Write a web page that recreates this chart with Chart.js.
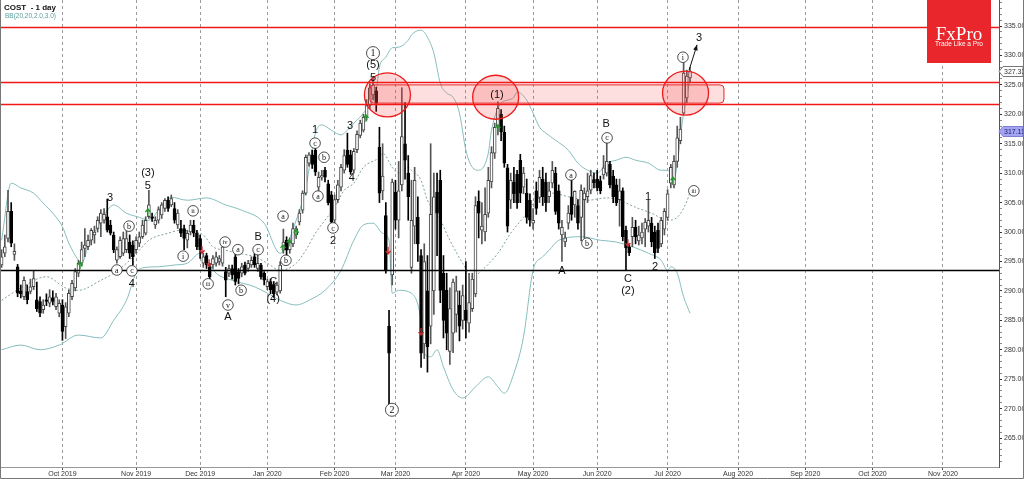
<!DOCTYPE html>
<html>
<head>
<meta charset="utf-8">
<script src="https://cdn.jsdelivr.net/npm/chart.js@4.4.0/dist/chart.umd.min.js"></script>
<style>
  html, body { margin: 0; padding: 0; background: #fff; }
  #wrap { position: relative; width: 1024px; height: 479px; }
</style>
</head>
<body>
<div id="wrap"><canvas id="c" width="1024" height="479"></canvas></div>
<script>
// daily candles, index 0 = first visible trading day
const opens = [294.4,296.4,298.9,303.5,296.2,294.1,290,289,289.9,289.9,290.7,288.5,288.2,286.8,288.5,287.9,288.8,287.3,286.2,287.6,
  283.9,286.2,289,290.5,293,294.7,297.2,297.5,298.6,299.5,300.6,301.5,302,302.6,301.2,299.5,295.2,295.8,296.4,297,
  298.3,297.8,297,298.1,299.2,299.8,302.6,302.6,301.2,302,302.9,304,305.4,304.6,304,301.2,300.6,300.6,298.6,300,
  301.2,299.8,298.9,294.7,296,294.1,294.4,294.7,295,294.7,293.3,293,293.8,295.8,293.3,293,294.4,293.8,294.4,295.8,
  293.8,294.4,293,290.7,291.6,291,289.8,290,296.9,298.6,297,298,299.5,301.7,303.7,306.6,311.7,313.1,313.9,307.6,
  309.3,310.5,308.2,306.3,302,305.5,307.6,310.5,313.9,313.1,310.5,314,316.4,317.3,319.5,321.5,323.3,324,314.4,307,
  302.8,284,292.7,306.8,302,308,315,310,294,301,302.5,296,281,290,284,290,306.8,308.8,293,290.1,
  279.7,282.8,286,287.6,285,286.7,284.5,287,289.5,305.2,300.3,300,303.2,308.5,313.4,317.8,320,317,310.9,305.4,
  308.5,309.8,312.2,307.6,306.6,305.4,301.5,307,305.9,309,308.5,306,308.3,310,307,299.5,298.3,301.5,306,304.6,
  304.5,302.5,305.5,306,307.1,308.9,309,308.7,309.7,310,311.5,309.5,308,305.5,307,300.3,297.5,299.2,300.8,298.5,
  299,300.5,301,301.5,300,300.3,298,300.5,302.5,308.3,308,312,315.5,320.2,322.8,326.2];
const highs = [297,299.5,307.1,305,298,294.5,291,292.4,291,292,293.5,291.5,289,288.5,289.5,290.2,290,289.6,288.5,288.5,
  288,290.2,291.8,293.8,295.2,298.3,300.6,299.5,300.6,301,302.6,303.8,304,305.6,302,300,297.5,299.2,300,300.3,
  299.5,298.5,299.2,300,302,302.6,307.1,303.2,302.6,304.3,305,305.7,306,306.3,305,303.8,302,301.2,300.3,302,
  302,300.3,299.5,296.4,296.4,294.7,296,296.6,296,297.8,294,294.4,294.4,296.9,293.8,294.7,294.9,295.2,295.8,297.2,
  296.4,294.7,293.3,292,292,291.6,291.5,295,300.5,299.2,299,301.5,301,303.8,307,313.1,313.5,313.9,314.5,310.2,
  310.5,311,308.8,306.9,306.3,308.8,311.5,314,316.8,313.9,314.2,317.2,319,320,322.5,325.2,326.3,324.6,317.8,315,
  305,286.7,309,308.8,312,324.5,322,313,308.8,311,306,297,298,296,315,310,310,310.5,296,293,
  290.5,292,292.5,290,291,295,293,293,306,307,305,307.5,311,314.5,318.5,322.1,320.8,318,311.5,310,
  311,310.5,313.2,311,309,306.5,304,308.5,310.5,311,310,308.5,312,311,308,302,300,304.5,309,307,
  305.5,308,307.5,310,310.5,310,310.5,309.5,313,315.1,312,310.5,309,309,307.5,301,298,302.5,302,301,
  301.5,302.3,305.4,302.5,301,301.5,302.5,304,307.2,311.5,313,318,319.5,328.7,327.5,328];
const lows = [294,295.8,298.3,297.5,295.2,289,288.8,288.5,287.8,289.5,290.2,286.5,285.6,286.2,287.5,287.3,287.6,286.8,285.6,281.6,
  281.9,285.6,288.5,290,292.4,294.2,295.8,297,297.8,298.1,300,299.2,301.5,300,299.5,296.5,294.7,295.5,296,296.5,
  295.5,294.4,296.4,297.5,298.9,299.5,302.3,301.8,300.6,301.5,302.3,303.5,303.5,304.3,301.5,300.6,299.2,297,297.3,299.5,
  299.2,297,295.5,294,293.8,291.5,293.8,294.2,294.4,294.2,289,292.4,292,291,291.2,292.4,292.7,293.3,294,294,
  293.3,292,291,290.2,289.5,288.9,289.3,289.6,296.4,296,296.4,297.5,298.9,301.2,303.2,306.3,311.2,310.8,309.6,306.3,
  308.8,308.5,304.6,301,301.2,305,307,310,311,309.8,310,313.5,316,317,319,321,322.5,320.5,305,305.5,
  293,270.3,291,300.5,299,307,309,302,293,298,295,277,278.5,276.2,281,286,296,288,282,280,
  277.5,279.5,283,281.5,283.5,282,283,286.5,289,299,298,298.5,302.5,307.5,312.5,316.5,315.5,311,300,304,
  305,304,305,306.5,301.5,301,300.5,303,305,304.5,303.5,305,307.5,303,300.5,295,297.5,300.5,302,302.5,
  300.5,298.5,299,305,306.5,307.5,307,306.5,309,309.5,307.5,305,304.5,301,298.5,293.6,296,297.5,298,297.8,
  298,297.5,300,297.5,295.5,296.5,297.5,299.5,302,307.5,307.5,311,315,320,322,325.5];
const closes = [295.8,297.5,303.5,298.1,296.7,289.6,289.5,291.8,288.5,290.7,292.1,287,286.2,287.6,288.2,289,288.2,289,287.9,283.1,
  287.3,289.6,291.3,293.3,294.7,297,297.8,298.6,300.3,300,302,303.2,303,300.3,299.8,297,297,298.6,298.9,298.9,
  296.4,295.8,298.6,299.2,301.2,302,304.6,302.3,302,303.8,304.6,305.4,304,305.7,302,303.2,299.8,298.9,299.8,301.2,
  299.8,297.5,297,295.8,294.4,292.4,295.5,295.8,295.5,297.5,291.8,293.8,292.7,291.6,292.1,294.1,293,294.7,295.2,294.4,
  294.7,292.4,291.8,291.6,290.2,289.5,291,294.4,298.3,296.9,298.3,300.6,300.6,303.2,306.6,312.7,313.1,311.5,310.2,309.3,
  309.6,309.3,305,301.7,305.5,308,311,313,311.5,310.2,313.7,316.6,318.5,319.5,321.5,324.5,325,321.9,306.6,309.5,
  293.5,279.4,308.5,302,307,316.2,312.2,306,302,308.8,298,279.4,295,280.5,303,306,303.2,290.1,285,282.8,
  287,291.5,290,284,289.2,285,288,292,304.5,303.2,301,303,308.8,313.5,317.8,321,317,311.7,301,308.8,
  306.5,305,306.6,310,302.5,302,302,304,309.3,306,305,307,310.5,303.5,301.5,300.8,299,303.2,303,306.9,
  301.5,307.1,306.6,307,309.6,308.4,307.5,307,310.9,312,308,306,305,307,299.2,297.3,296.5,300.8,299.2,299.5,
  300,301.7,302,298.3,296.5,297.2,302,303.5,306.5,311,312,316,317.5,327,326.5,327.33];

// bollinger band readings [candle index, price]
const bbUpper = [[0,298.6],[3,308.3],[6,307.5],[10,306.6],[13,304.9],[16,303.2],[19,300.9],[21,298.1],[24,295.2],[25,294.7],
  [27,297.5],[30,300.9],[33,303.7],[35,304.6],[39,303.2],[43,302.5],[46,302],[49,303.7],[53,305.9],[58,305.4],[64,305.8],
  [70,304.6],[75,303.7],[82,301.5],[87,296.4],[92,302],[95,307.6],[98,316.8],[100,318.2],[103,317.3],[106,316.5],[108,317.3],
  [110,318.5],[113,320.2],[117,324.1],[118,328],[120,329.7],[122,331.3],[124,331.4],[127,332.6],[128,333.5],[131,334.3],
  [133,333.1],[135,330.4],[137,325.3],[139,323.6],[141,322.9],[143,320.2],[145,313.9],[147,311],[149,310.5],[152,313.4],
  [153,317.3],[156,321.9],[158,322.4],[160,322.9],[161,323.8],[164,322.4],[166,320.2],[168,317.8],[170,316.8],[173,315.6],
  [177,313.9],[180,311.7],[183,310.5],[186,310],[189,311.7],[192,312.2],[195,312.7],[198,312.2],[202,311.7],[206,310.5],
  [208,310.5],[210,309.3],[213,320.2],[215,325.8]];
const bbMiddle = [[0,288.4],[6,290.5],[14,292.4],[20,290.5],[24,290.1],[31,291.8],[35,293],[39,294.7],[43,296.9],[46,298.6],
  [52,299.8],[56,300.3],[60,300],[63,299.5],[66,297.5],[70,296.9],[74,296.4],[79,295.8],[83,294.7],[87,293.5],[92,294.7],
  [95,296.9],[98,299.8],[101,302],[104,304.2],[107,307.1],[110,308.3],[113,311],[118,312.7],[119,313.4],[122,311],[124,310],
  [127,311],[128,310.5],[131,308.8],[133,305.4],[136,303.2],[140,298.6],[144,294.7],[147,292.4],[150,293.5],[155,296.4],
  [159,299.8],[163,302.5],[167,305.4],[172,306.6],[177,306],[183,305.4],[189,305.8],[193,305.4],[198,304.2],[203,303.2],
  [208,302],[211,302.5],[214,305.2],[215,306.8]];
const bbLower = [[0,280],[6,280.8],[12,280],[18,280.8],[24,282.5],[31,282],[35,285],[39,288.4],[42,293],[44,293.9],[49,294.1],
  [54,294.4],[58,294.7],[62,296.4],[64,295.2],[67,293],[72,291.8],[79,290.7],[83,289.6],[87,288.4],[92,287.6],[96,288.4],
  [101,290.1],[106,293.5],[110,298.6],[113,301.2],[116,301.5],[119,299.8],[121,298.6],[122,289.6],[124,290.1],[128,289.6],
  [131,285],[132,279.4],[134,278.8],[136,280],[138,277.1],[141,273.2],[144,271.8],[148,273.7],[152,275.4],[155,273.7],
  [157,272.6],[160,276],[163,282.2],[166,293.5],[169,295.8],[171,296.9],[174,298.6],[181,299.2],[187,298.6],[192,298.3],
  [197,297.5],[202,296.4],[206,295.2],[208,293.5],[209,294.1],[211,293],[213,289],[215,286.2]];

// axis
const monthLabels = ['Oct 2019','Nov 2019','Dec 2019','Jan 2020','Feb 2020','Mar 2020','Apr 2020','May 2020','Jun 2020',
  'Jul 2020','Aug 2020','Sep 2020','Oct 2020','Nov 2020'];
const monthStart = [19, 42, 62, 83, 104, 123, 145, 166, 186, 208, 230, 251, 272, 294];
const slotCount = 312;

// drawn levels and marks
const resistLevels = [334.83, 325.49, 321.75];
const supportLevel = 293.55;
const zoneBox = { from: 115, to: 225.6, top: 325.0, bottom: 321.9 };
const zoneCircles = [[120.5, 323.3], [154.3, 322.9], [213.6, 323.6]];
const lastPrice = 327.33;
const markPrice = 317.11;

// wave labels: text, index, price, kind (p plain, c circled, C big circled)
const waveLabels = [
  ['3',33.9,305.8,'p'],['a',36,293.55,'c'],['b',39.8,301,'c'],['c',40.7,293.4,'c'],['4',40.7,291.1,'p'],
  ['(3)',45.7,310,'p'],['5',45.7,307.8,'p'],['i',56.7,295.9,'c'],['ii',59.8,303.6,'c'],['iii',64.5,291.2,'c'],
  ['iv',69.8,298.3,'c'],['a',73.8,297,'c'],['v',70.7,287.6,'c'],['A',70.7,285.6,'p'],['b',74.8,290.1,'c'],
  ['B',80.1,299.1,'p'],['c',80.1,297,'c'],['C',84.8,291.6,'p'],['(4)',84.8,288.7,'p'],['a',87.9,302.7,'c'],
  ['b',88.8,295.2,'c'],['1',97.9,317.3,'p'],['c',97.9,315.1,'c'],['b',100.7,312.7,'c'],['a',98.8,306.1,'c'],
  ['3',108.8,318.1,'p'],['4',109.4,309.1,'p'],['c',103.5,300.7,'c'],['2',103.5,298.4,'p'],
  ['1',116,330.4,'C'],['(5)',116,328.4,'p'],['5',116,326.2,'p'],['2',121.9,269.8,'C'],['(1)',154.7,323.3,'p'],
  ['B',188.8,318.3,'p'],['c',189.1,316,'c'],['a',177.8,309.7,'c'],['b',182.8,298.1,'c'],['A',175,293.4,'p'],
  ['C',195.6,292.1,'p'],['(2)',195.6,290,'p'],['1',201.9,305.9,'p'],['2',204.1,294,'p'],['i',212.8,329.7,'c'],
  ['3',217.8,333,'p'],['iii',216.2,307,'c']
];
const targetArrow = [[214.7, 327.5], [217.2, 331.8]];
const signalUp = [[24.5,294.4],[45.7,303.4],[87.9,297.3],[89.8,298.2],[92,299.9],[113.8,319.4],[155,317.7],[209.7,308.8]];
const signalDown = [[62.6,296.9],[64.8,294.7],[120.7,296.8],[131,283],[195.6,298.1]];

const idx = opens.map((_, i) => i);
const isUp = idx.map(i => closes[i] >= opens[i]);

function drawLabel(ctx, t, px, py, kind) {
  ctx.textAlign = 'center';
  ctx.textBaseline = 'middle';
  if (kind === 'p') {
    ctx.font = '11px "Liberation Sans"';
    ctx.fillStyle = '#111';
    ctx.fillText(t, px, py);
    return;
  }
  const r = kind === 'C' ? 6.5 : 5.3;
  ctx.beginPath();
  ctx.arc(px, py, r, 0, Math.PI * 2);
  ctx.fillStyle = '#fff';
  ctx.fill();
  ctx.lineWidth = 0.8;
  ctx.strokeStyle = '#222';
  ctx.stroke();
  ctx.fillStyle = '#111';
  const size = kind === 'C' ? 10 : (t.length > 2 ? 5.5 : (t.length > 1 ? 6.5 : 8));
  ctx.font = size + 'px "Liberation Serif"';
  ctx.fillText(t, px, py + 0.5);
}

function priceTag(ctx, px, py, text, fill, stroke, color) {
  ctx.beginPath();
  ctx.moveTo(px, py);
  ctx.lineTo(px + 4, py - 5);
  ctx.lineTo(1023, py - 5);
  ctx.lineTo(1023, py + 5);
  ctx.lineTo(px + 4, py + 5);
  ctx.closePath();
  ctx.fillStyle = fill;
  ctx.fill();
  ctx.lineWidth = 1;
  ctx.strokeStyle = stroke;
  ctx.stroke();
  ctx.fillStyle = color;
  ctx.font = '7px "Liberation Sans"';
  ctx.textAlign = 'left';
  ctx.textBaseline = 'middle';
  ctx.fillText(text, px + 5, py + 0.5);
}

const overlay = {
  id: 'overlay',
  afterDatasetsDraw(chart) {
    const { ctx, chartArea: a, scales: { x, y } } = chart;
    ctx.save();
    ctx.beginPath();
    ctx.rect(a.left, a.top, a.right - a.left, a.bottom - a.top);
    ctx.clip();

    // zone box + circles
    const bx1 = x.getPixelForValue(zoneBox.from), bx2 = x.getPixelForValue(zoneBox.to);
    const by1 = y.getPixelForValue(zoneBox.top), by2 = y.getPixelForValue(zoneBox.bottom);
    ctx.beginPath();
    ctx.roundRect(bx1, by1, bx2 - bx1, by2 - by1, 4);
    ctx.fillStyle = 'rgba(245,80,80,0.18)';
    ctx.fill();
    ctx.lineWidth = 1;
    ctx.strokeStyle = '#ee2222';
    ctx.stroke();
    zoneCircles.forEach(([ci, cp]) => {
      ctx.beginPath();
      ctx.ellipse(x.getPixelForValue(ci), y.getPixelForValue(cp), 23, 22, 0, 0, Math.PI * 2);
      ctx.fillStyle = 'rgba(240,60,60,0.2)';
      ctx.fill();
      ctx.lineWidth = 1.3;
      ctx.strokeStyle = '#ee1c1c';
      ctx.stroke();
    });

    // horizontal levels
    ctx.lineWidth = 1.6;
    ctx.strokeStyle = '#f01818';
    resistLevels.forEach(p => {
      const py = Math.round(y.getPixelForValue(p)) + 0.5;
      ctx.beginPath(); ctx.moveTo(a.left, py); ctx.lineTo(a.right, py); ctx.stroke();
    });
    ctx.lineWidth = 1.6;
    ctx.strokeStyle = '#000';
    const sy = Math.round(y.getPixelForValue(supportLevel)) + 0.5;
    ctx.beginPath(); ctx.moveTo(a.left, sy); ctx.lineTo(a.right, sy); ctx.stroke();

    // signal arrows
    ctx.lineWidth = 1.3;
    signalUp.forEach(([si, sp]) => {
      const px = x.getPixelForValue(si), py = y.getPixelForValue(sp);
      ctx.strokeStyle = '#1f9a2a';
      ctx.beginPath();
      ctx.moveTo(px, py + 4); ctx.lineTo(px, py - 3);
      ctx.moveTo(px - 2.5, py); ctx.lineTo(px, py - 3); ctx.lineTo(px + 2.5, py);
      ctx.stroke();
    });
    signalDown.forEach(([si, sp]) => {
      const px = x.getPixelForValue(si), py = y.getPixelForValue(sp);
      ctx.strokeStyle = '#c8282a';
      ctx.beginPath();
      ctx.moveTo(px, py - 4); ctx.lineTo(px, py + 3);
      ctx.moveTo(px - 2.5, py); ctx.lineTo(px, py + 3); ctx.lineTo(px + 2.5, py);
      ctx.stroke();
    });

    // target arrow
    const ax1 = x.getPixelForValue(targetArrow[0][0]), ay1 = y.getPixelForValue(targetArrow[0][1]);
    const ax2 = x.getPixelForValue(targetArrow[1][0]), ay2 = y.getPixelForValue(targetArrow[1][1]);
    const ang = Math.atan2(ay2 - ay1, ax2 - ax1);
    ctx.strokeStyle = '#111';
    ctx.fillStyle = '#111';
    ctx.lineWidth = 1;
    ctx.beginPath(); ctx.moveTo(ax1, ay1); ctx.lineTo(ax2, ay2); ctx.stroke();
    ctx.beginPath();
    ctx.moveTo(ax2, ay2);
    ctx.lineTo(ax2 - 6 * Math.cos(ang - 0.4), ay2 - 6 * Math.sin(ang - 0.4));
    ctx.lineTo(ax2 - 6 * Math.cos(ang + 0.4), ay2 - 6 * Math.sin(ang + 0.4));
    ctx.closePath(); ctx.fill();

    // wave labels
    waveLabels.forEach(([t, li, lp, kind]) => drawLabel(ctx, t, x.getPixelForValue(li), y.getPixelForValue(lp), kind));
    ctx.restore();
  },
  afterDraw(chart) {
    const { ctx, chartArea: a, scales: { y } } = chart;
    ctx.save();
    // title
    ctx.textAlign = 'left';
    ctx.textBaseline = 'alphabetic';
    ctx.fillStyle = '#111';
    ctx.font = 'bold 8px "Liberation Sans"';
    ctx.fillText('COST  - 1 day', 4, 10);
    ctx.fillStyle = '#5a9e9e';
    ctx.font = '6.5px "Liberation Sans"';
    ctx.fillText('BB(20,20,2.0,3.0)', 5, 18);

    // price tags on the axis
    priceTag(ctx, a.right, Math.round(y.getPixelForValue(lastPrice)) + 0.5, lastPrice.toFixed(2), '#fff', '#777', '#333');
    priceTag(ctx, a.right, Math.round(y.getPixelForValue(markPrice)) + 0.5, markPrice.toFixed(2), '#a4a4f4', '#8080d0', '#1c1c60');

    // logo
    ctx.fillStyle = '#e8262b';
    ctx.fillRect(927, 0, 64, 63);
    ctx.fillStyle = '#fff';
    ctx.textAlign = 'center';
    ctx.font = '19px "Liberation Serif"';
    ctx.fillText('FxPro', 959, 35);
    ctx.font = '6.5px "Liberation Sans"';
    ctx.fillText('Trade Like a Pro', 959, 44);

    // frame
    ctx.strokeStyle = '#777';
    ctx.lineWidth = 1;
    ctx.beginPath();
    ctx.moveTo(0.5, 0); ctx.lineTo(0.5, 478.5); ctx.lineTo(1023.5, 478.5); ctx.lineTo(1023.5, 0);
    ctx.stroke();
    ctx.restore();
  }
};

new Chart(document.getElementById('c'), {
  type: 'bar',
  data: {
    datasets: [
      {
        type: 'bar',
        data: idx.map(i => ({ x: i, y: [opens[i], closes[i]] })),
        backgroundColor: idx.map(i => isUp[i] ? '#ffffff' : '#000000'),
        borderColor: idx.map(i => isUp[i] ? '#444' : '#000'),
        borderWidth: 1,
        borderSkipped: false,
        barThickness: 3,
        minBarLength: 1,
        grouped: false,
        order: 1
      },
      {
        type: 'bar',
        data: idx.map(i => ({ x: i, y: [lows[i], highs[i]] })),
        backgroundColor: idx.map(i => isUp[i] ? '#555' : '#000'),
        barThickness: 1,
        grouped: false,
        order: 2
      },
      {
        type: 'line',
        data: bbUpper.map(([i, p]) => ({ x: i, y: p })),
        borderColor: '#86bdbd',
        borderWidth: 1,
        pointRadius: 0,
        cubicInterpolationMode: 'monotone',
        order: 3
      },
      {
        type: 'line',
        data: bbMiddle.map(([i, p]) => ({ x: i, y: p })),
        borderColor: '#7f9f9f',
        borderWidth: 1,
        borderDash: [2, 2],
        pointRadius: 0,
        cubicInterpolationMode: 'monotone',
        order: 3
      },
      {
        type: 'line',
        data: bbLower.map(([i, p]) => ({ x: i, y: p })),
        borderColor: '#86bdbd',
        borderWidth: 1,
        pointRadius: 0,
        cubicInterpolationMode: 'monotone',
        order: 3
      }
    ]
  },
  options: {
    responsive: false,
    animation: false,
    devicePixelRatio: 1,
    layout: { padding: 0 },
    events: [],
    plugins: { legend: { display: false }, tooltip: { enabled: false } },
    scales: {
      x: {
        type: 'linear',
        offset: false,
        min: -0.5,
        max: slotCount - 0.5,
        afterBuildTicks: s => { s.ticks = monthStart.map(v => ({ value: v })); },
        ticks: {
          autoSkip: false,
          maxRotation: 0,
          padding: 0,
          color: '#333',
          font: { family: 'Liberation Sans', size: 7 },
          callback: (v, i) => monthLabels[i]
        },
        grid: { offset: false, color: '#9c9c9c', lineWidth: 1, tickLength: 3, tickColor: '#555' },
        border: { color: '#999', dash: [3, 3] },
        afterFit: s => { s.height = 12; s.paddingLeft = 0; s.paddingRight = 0; }
      },
      y: {
        position: 'right',
        min: 260.08,
        max: 339.42,
        afterBuildTicks: s => {
          const t = [];
          for (let v = 261; v <= 339; v++) t.push({ value: v });
          s.ticks = t;
        },
        ticks: {
          autoSkip: false,
          padding: 2,
          color: '#333',
          font: { family: 'Liberation Sans', size: 7 },
          callback: v => (v % 5 === 0 ? v.toFixed(2) : '')
        },
        grid: {
          drawOnChartArea: false,
          tickLength: 3,
          tickColor: c => (c.tick && c.tick.value % 5 === 0 ? '#333' : '#888')
        },
        border: { color: '#555' },
        afterFit: s => { s.width = 25; s.paddingTop = 0; s.paddingBottom = 0; }
      }
    }
  },
  plugins: [overlay]
});
</script>
</body>
</html>
